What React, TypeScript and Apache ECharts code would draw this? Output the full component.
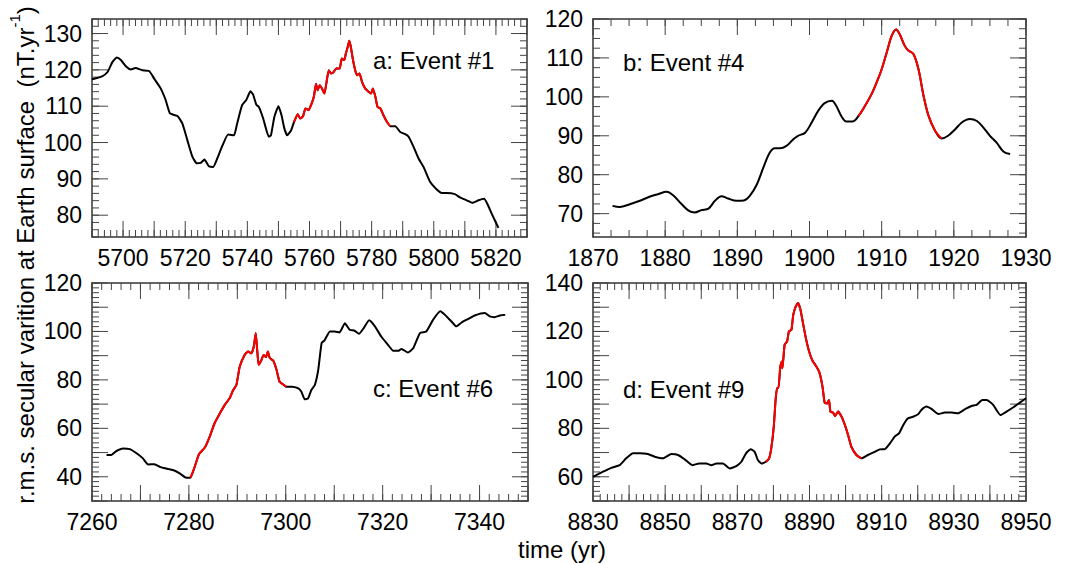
import React, { useEffect, useRef } from "react";
import * as echarts from "echarts";

// ---------- Data ----------
// Panel a: Event #1
const A_YEARS = [5690, 5693.4, 5695, 5696.6, 5698, 5699.3, 5700.9, 5702.5, 5704, 5706.2, 5708.4, 5710, 5712.1, 5713.7, 5715.1, 5717.5, 5719.1, 5720.7, 5722.3, 5723.7, 5725, 5726.2, 5727.6, 5729, 5730.3, 5731.9, 5733.8, 5735.7, 5736.7, 5738.3, 5739.7, 5741, 5741.8, 5742.9, 5743.7, 5745.1, 5746.9, 5747.6, 5748.7, 5750, 5751, 5751.9, 5752.8, 5754.1, 5755, 5756.2, 5757, 5757.9, 5758.7, 5759.7, 5760.5, 5761.4, 5762.1, 5762.6, 5763.3, 5764, 5764.8, 5765.4, 5766.2, 5766.9, 5767.8, 5768.6, 5769.7, 5770.4, 5771.2, 5771.7, 5772.3, 5772.8, 5773.3, 5774, 5774.7, 5775.3, 5776.1, 5776.9, 5777.9, 5779, 5779.8, 5780.4, 5781.2, 5781.9, 5782.8, 5783.8, 5784.9, 5786, 5787.6, 5789.2, 5790.8, 5791.9, 5793.5, 5795.1, 5796.7, 5798.8, 5800.7, 5802.6, 5804.2, 5806.8, 5808.4, 5810.6, 5812.5, 5814.4, 5816.2, 5817.3, 5818.6, 5820.8];
const A_VALUES = [117.4, 118.3, 119.4, 122.2, 123.4, 122.7, 121, 120.1, 120.5, 119.9, 119.7, 117.6, 114.9, 111.7, 108, 107.3, 105.2, 100.6, 96.1, 94.3, 94.4, 95.3, 93.5, 93.3, 95.6, 99, 102.2, 102, 105.2, 110.3, 111.8, 114.1, 113.3, 110.4, 109.8, 106.6, 101.6, 102, 107.1, 110, 107.5, 103.9, 102, 103.4, 105.6, 107.8, 106.6, 107.2, 109.4, 108.9, 110.3, 112.6, 116.2, 114.4, 115.8, 114.9, 113.5, 116.2, 119.9, 119, 119.4, 120.4, 120.4, 123.1, 122.7, 124.5, 126.3, 128, 126.3, 122.7, 119.9, 118.5, 119, 116.7, 114.9, 114, 113.5, 114.9, 112.6, 109.8, 109.4, 107.5, 105.7, 104.5, 104.5, 102.9, 102.3, 101.6, 98.8, 95.6, 93.3, 89.2, 87.3, 86.1, 86.1, 85.8, 84.9, 84.1, 83.4, 84.1, 84.5, 83, 80.5, 76.5];
const A_EVENT = [5755, 5786];
const A_X_LABELS = [5700, 5720, 5740, 5760, 5780, 5800, 5820];
const A_Y_LABELS = [80, 90, 100, 110, 120, 130];

// Panel b: Event #4
const B_YEARS = [1872.7, 1873.7, 1875.1, 1876.5, 1877.9, 1879, 1880.2, 1881.1, 1882.3, 1883.3, 1884.1, 1885, 1886, 1886.9, 1887.8, 1888.7, 1889.9, 1890.9, 1891.7, 1892.7, 1893.6, 1894.5, 1895.2, 1895.9, 1896.8, 1897.7, 1898.4, 1899.4, 1900.3, 1901.2, 1902.1, 1903.1, 1903.7, 1904.4, 1905.1, 1906, 1906.8, 1907.7, 1908.6, 1909.3, 1910, 1910.7, 1911.4, 1912, 1912.5, 1913.2, 1913.7, 1914.4, 1915.1, 1915.8, 1916.5, 1917.4, 1918.3, 1919.2, 1920.2, 1921.1, 1922.2, 1923.2, 1924.1, 1925, 1925.9, 1926.9, 1927.8];
const B_VALUES = [72, 71.7, 72.4, 73.3, 74.4, 75, 75.6, 74.7, 72.4, 70.7, 70.3, 70.9, 71.3, 73.3, 74.5, 73.9, 73.3, 73.4, 74.5, 77.5, 81.8, 85.7, 86.8, 86.8, 87.4, 89, 90, 90.8, 93.4, 96.4, 98.4, 99, 97.7, 95.1, 93.7, 93.7, 95.1, 97.7, 100.7, 103.7, 107.1, 111.4, 115.7, 117.3, 116.1, 113.1, 111.9, 111, 107.1, 100.3, 95.1, 91.3, 89.3, 90, 91.7, 93.4, 94.3, 93.8, 92.1, 90, 88.3, 85.9, 85.3];
const B_EVENT = [1906.8, 1918.3];
const B_X_LABELS = [1870, 1880, 1890, 1900, 1910, 1920, 1930];
const B_Y_LABELS = [70, 80, 90, 100, 110, 120];

// Panel c: Event #6
const C_YEARS = [7263, 7264, 7265, 7266.4, 7267.8, 7269.2, 7270.5, 7271.6, 7272.9, 7274, 7275.3, 7276.7, 7278.1, 7279.3, 7280.3, 7281.2, 7282.1, 7283.3, 7284.3, 7285.3, 7286.4, 7287.4, 7288.4, 7289.1, 7289.8, 7290.5, 7291.5, 7292.2, 7292.9, 7293.4, 7293.8, 7294.1, 7294.4, 7295, 7295.4, 7295.9, 7296.3, 7296.7, 7297.4, 7298.1, 7298.7, 7299.4, 7300.1, 7301.2, 7302.5, 7303.2, 7303.9, 7304.6, 7305.3, 7306, 7306.7, 7307.4, 7308, 7309.1, 7310.1, 7311.1, 7312.2, 7313.2, 7314.2, 7315.1, 7316.1, 7317.2, 7318.4, 7319.7, 7321.1, 7322.1, 7323.2, 7323.9, 7325.2, 7326.3, 7327.7, 7329, 7330.4, 7331.9, 7333.2, 7334.2, 7335.2, 7336.3, 7337.6, 7339, 7341.1, 7342.1, 7343.1, 7344.2, 7345.3];
const C_VALUES = [49, 49, 50.6, 51.7, 51.4, 49.7, 47.6, 45.1, 45.2, 44.1, 43.4, 42.8, 41.4, 39.7, 39.6, 44.1, 49.4, 52.1, 56.6, 62.1, 66.2, 69.7, 72.4, 75.6, 77.9, 85.5, 90.3, 91.7, 91, 93.8, 99.3, 92.4, 86.2, 88.3, 90.3, 89.4, 91.7, 89, 88, 84.1, 79.3, 78.2, 77.2, 77.2, 76.6, 75.2, 72, 72.4, 75.9, 77.9, 84.1, 95.2, 96.3, 100, 100, 99.6, 103.4, 100.7, 100.3, 99, 101.4, 104.6, 102.1, 97.9, 94.5, 92.1, 92, 92.8, 91.3, 93.1, 99.3, 100, 104.8, 108.3, 106.2, 104.1, 102.1, 103.7, 105.1, 106.6, 107.6, 106.2, 105.9, 106.6, 106.9];
const C_EVENT = [7280.3, 7300.1];
const C_X_LABELS = [7260, 7280, 7300, 7320, 7340];
const C_Y_LABELS = [40, 60, 80, 100, 120];

// Panel d: Event #9
const D_YEARS = [8830, 8832.8, 8835.1, 8837.4, 8839.2, 8841.1, 8842.9, 8845.2, 8847.1, 8849.4, 8851.7, 8853.6, 8855.4, 8857.5, 8859.4, 8861.4, 8862.8, 8864.2, 8866, 8867.9, 8869.7, 8871.1, 8872.5, 8873.7, 8874.8, 8875.7, 8876.7, 8877.9, 8878.8, 8879.4, 8880.1, 8880.6, 8881, 8881.4, 8881.9, 8882.3, 8882.5, 8883.1, 8883.8, 8884.3, 8885, 8885.5, 8886.2, 8886.8, 8887.5, 8888.2, 8889, 8889.9, 8890.8, 8891.9, 8892.8, 8893.6, 8894.2, 8894.9, 8895.4, 8895.8, 8896.5, 8897.1, 8897.9, 8898.9, 8899.8, 8900.7, 8901.6, 8903, 8904.4, 8906.2, 8908.1, 8909.5, 8910.9, 8912.3, 8913.6, 8914.8, 8916, 8917.2, 8918.7, 8920.1, 8921, 8922.4, 8923.8, 8925.7, 8927.5, 8929.4, 8931.2, 8933.1, 8934.9, 8936.3, 8937.9, 8939.1, 8940.9, 8942.9, 8944.6, 8946.5, 8948.3, 8950];
const D_VALUES = [60, 62.1, 63.7, 64.8, 67.6, 69.7, 69.7, 69.4, 68.3, 67.6, 69.4, 69, 67.2, 64.8, 65.5, 65.5, 64.8, 65.5, 65.5, 63.4, 64.4, 66.2, 69.9, 71.4, 70.3, 66.9, 65.5, 66.2, 67.6, 71.7, 80.7, 91.7, 96.6, 96.6, 105.5, 107.6, 104.8, 114.5, 115.9, 120, 120.7, 126.9, 130.3, 131.7, 129, 123.4, 117.2, 111.7, 108, 105.5, 102.8, 97.2, 90.6, 90.3, 91.7, 86.9, 86.5, 85.1, 86.9, 84.8, 81.4, 77.2, 72.4, 69, 67.6, 69, 70.3, 71.3, 71.4, 73.8, 76.6, 77.9, 81.4, 84.1, 84.8, 85.8, 87.6, 89, 88, 85.9, 86.5, 86.5, 86.2, 87.9, 89.2, 89.7, 91.7, 91.7, 89.7, 85.5, 86.9, 88.7, 90.6, 92.4];
const D_EVENT = [8877.9, 8904.4];
const D_X_LABELS = [8830, 8850, 8870, 8890, 8910, 8930, 8950];
const D_Y_LABELS = [60, 80, 100, 120, 140];

const EVENT_NAMES = ["a: Event #1", "b: Event #4", "c: Event #6", "d: Event #9"];
const Y_TITLE = "r.m.s. secular varition at Earth surface  (nT.yr";
const X_TITLE = "time (yr)";

// ---------- Layout / styling ----------
const FONT = "'Liberation Sans', Arial, Helvetica, sans-serif";
const TICK_COLOR = "#444";
const MAJOR_LEN = 16;
const MINOR_LEN = 7;

type Panel = {
  years: number[];
  values: number[];
  event: number[];
  xLabels: number[];
  yLabels: number[];
  xRange: number[];
  yRange: number[];
  xMajor: number;
  xMinor: number;
  yMajor: number;
  yMinor: number;
  grid: { left: number; top: number; width: number; height: number };
  label: { x: number; y: number };
  smooth: number;
};

const PANELS: Panel[] = [
  {
    years: A_YEARS, values: A_VALUES, event: A_EVENT, xLabels: A_X_LABELS, yLabels: A_Y_LABELS,
    xRange: [5690, 5830], yRange: [74, 134], xMajor: 10, xMinor: 2, yMajor: 10, yMinor: 2,
    grid: { left: 92, top: 19, width: 435, height: 218 }, label: { x: 373, y: 60 }, smooth: 0.15,
  },
  {
    years: B_YEARS, values: B_VALUES, event: B_EVENT, xLabels: B_X_LABELS, yLabels: B_Y_LABELS,
    xRange: [1870, 1930], yRange: [64, 120], xMajor: 10, xMinor: 2.5, yMajor: 10, yMinor: 2.5,
    grid: { left: 593, top: 19, width: 433, height: 218 }, label: { x: 623, y: 62 }, smooth: 0.35,
  },
  {
    years: C_YEARS, values: C_VALUES, event: C_EVENT, xLabels: C_X_LABELS, yLabels: C_Y_LABELS,
    xRange: [7260, 7350], yRange: [30, 120], xMajor: 10, xMinor: 2, yMajor: 10, yMinor: 2,
    grid: { left: 92, top: 283, width: 436, height: 218 }, label: { x: 373, y: 388 }, smooth: 0.15,
  },
  {
    years: D_YEARS, values: D_VALUES, event: D_EVENT, xLabels: D_X_LABELS, yLabels: D_Y_LABELS,
    xRange: [8830, 8950], yRange: [50, 140], xMajor: 10, xMinor: 2, yMajor: 10, yMinor: 2,
    grid: { left: 593, top: 283, width: 433, height: 218 }, label: { x: 623, y: 389 }, smooth: 0.15,
  },
];

function steps(min: number, max: number, step: number): number[] {
  const out: number[] = [];
  const start = Math.ceil(min / step - 1e-9) * step;
  for (let i = 0; ; i++) {
    const v = +(start + i * step).toFixed(6);
    if (v > max + 1e-9) break;
    out.push(v);
  }
  return out;
}

function makeAxes(dim: "x" | "y", p: Panel, g: number) {
  const range = dim === "x" ? p.xRange : p.yRange;
  const labels = dim === "x" ? p.xLabels : p.yLabels;
  const positions = dim === "x" ? ["bottom", "top"] : ["left", "right"];
  return positions.map((pos, k) => ({
    gridIndex: g,
    type: "value",
    position: pos,
    min: range[0],
    max: range[1],
    splitLine: { show: false },
    axisPointer: { show: false },
    axisLine: { show: true, onZero: false, lineStyle: { color: "#333", width: 1.5 } },
    axisTick: { show: false },
    axisLabel:
      k === 0
        ? {
            show: true,
            customValues: labels,
            margin: dim === "x" ? 9 : 10,
            color: "#000",
            fontFamily: FONT,
            fontSize: 23,
            formatter: (v: number) => String(v),
          }
        : { show: false },
  }));
}

// tick items: [value, kind]  kind 0 = x major, 1 = x minor, 2 = y major, 3 = y minor
function tickItems(p: Panel): number[][] {
  const items: number[][] = [];
  steps(p.xRange[0], p.xRange[1], p.xMajor).forEach((v) => items.push([v, 0]));
  steps(p.xRange[0], p.xRange[1], p.xMinor).forEach((v) => items.push([v, 1]));
  steps(p.yRange[0], p.yRange[1], p.yMajor).forEach((v) => items.push([v, 2]));
  steps(p.yRange[0], p.yRange[1], p.yMinor).forEach((v) => items.push([v, 3]));
  return items;
}

export default function App() {
  const ref = useRef<HTMLDivElement>(null);

  useEffect(() => {
    document.body.style.margin = "0";
    if (!ref.current) return;
    const chart = echarts.init(ref.current, undefined, { renderer: "svg" });

    const grids = PANELS.map((p) => ({ ...p.grid, containLabel: false }));
    const xAxes: any[] = [];
    const yAxes: any[] = [];
    PANELS.forEach((p, g) => {
      xAxes.push(...makeAxes("x", p, g));
      yAxes.push(...makeAxes("y", p, g));
    });

    const series: any[] = [];
    PANELS.forEach((p, g) => {
      const all = p.years.map((x, i) => [x, p.values[i]]);
      const ev = all.filter((d) => d[0] >= p.event[0] - 1e-9 && d[0] <= p.event[1] + 1e-9);
      const common = {
        type: "line",
        xAxisIndex: g * 2,
        yAxisIndex: g * 2,
        showSymbol: false,
        symbol: "none",
        smooth: p.smooth,
        z: 3,
      };
      series.push({ ...common, data: all, lineStyle: { color: "#000000", width: 2 } });
      series.push({ ...common, data: ev, lineStyle: { color: "#ff0000", width: 2 } });

      // tick marks on all four sides of the box, placed through the axes' scales
      series.push({
        type: "custom",
        xAxisIndex: g * 2,
        yAxisIndex: g * 2,
        silent: true,
        clip: false,
        z: 2,
        data: tickItems(p),
        renderItem: (_params: any, api: any) => {
          const v = api.value(0);
          const kind = api.value(1);
          const len = kind === 0 || kind === 2 ? MAJOR_LEN : MINOR_LEN;
          const style = { stroke: TICK_COLOR, lineWidth: 1 };
          if (kind < 2) {
            const b = api.coord([v, p.yRange[0]]);
            const t = api.coord([v, p.yRange[1]]);
            return {
              type: "group",
              children: [
                { type: "line", shape: { x1: b[0], y1: b[1], x2: b[0], y2: b[1] - len }, style },
                { type: "line", shape: { x1: t[0], y1: t[1], x2: t[0], y2: t[1] + len }, style },
              ],
            };
          }
          const l = api.coord([p.xRange[0], v]);
          const r = api.coord([p.xRange[1], v]);
          return {
            type: "group",
            children: [
              { type: "line", shape: { x1: l[0], y1: l[1], x2: l[0] + len, y2: l[1] }, style },
              { type: "line", shape: { x1: r[0], y1: r[1], x2: r[0] - len, y2: r[1] }, style },
            ],
          };
        },
      });
    });

    const graphic: any[] = PANELS.map((p, g) => ({
      type: "text",
      x: p.label.x,
      y: p.label.y,
      silent: true,
      style: {
        text: EVENT_NAMES[g],
        fill: "#000",
        font: `24px ${FONT}`,
        textAlign: "left",
        textVerticalAlign: "middle",
      },
    }));
    graphic.push({
      type: "text",
      x: 22,
      y: 255,
      rotation: Math.PI / 2,
      silent: true,
      style: {
        text: "{n|" + Y_TITLE + "}{s|-1}{n|)}",
        textAlign: "center",
        textVerticalAlign: "middle",
        rich: {
          n: { fontFamily: FONT, fontSize: 24, lineHeight: 30, fill: "#000", verticalAlign: "bottom" },
          s: { fontFamily: FONT, fontSize: 15, lineHeight: 18, fill: "#000", verticalAlign: "top" },
        },
      },
    });
    graphic.push({
      type: "text",
      x: 562,
      y: 549,
      silent: true,
      style: {
        text: X_TITLE,
        fill: "#000",
        font: `24px ${FONT}`,
        textAlign: "center",
        textVerticalAlign: "middle",
      },
    });

    chart.setOption({
      animation: false,
      backgroundColor: "#ffffff",
      grid: grids,
      xAxis: xAxes,
      yAxis: yAxes,
      series,
      graphic,
    });

    return () => chart.dispose();
  }, []);

  return <div ref={ref} style={{ width: 1067, height: 564 }} />;
}
